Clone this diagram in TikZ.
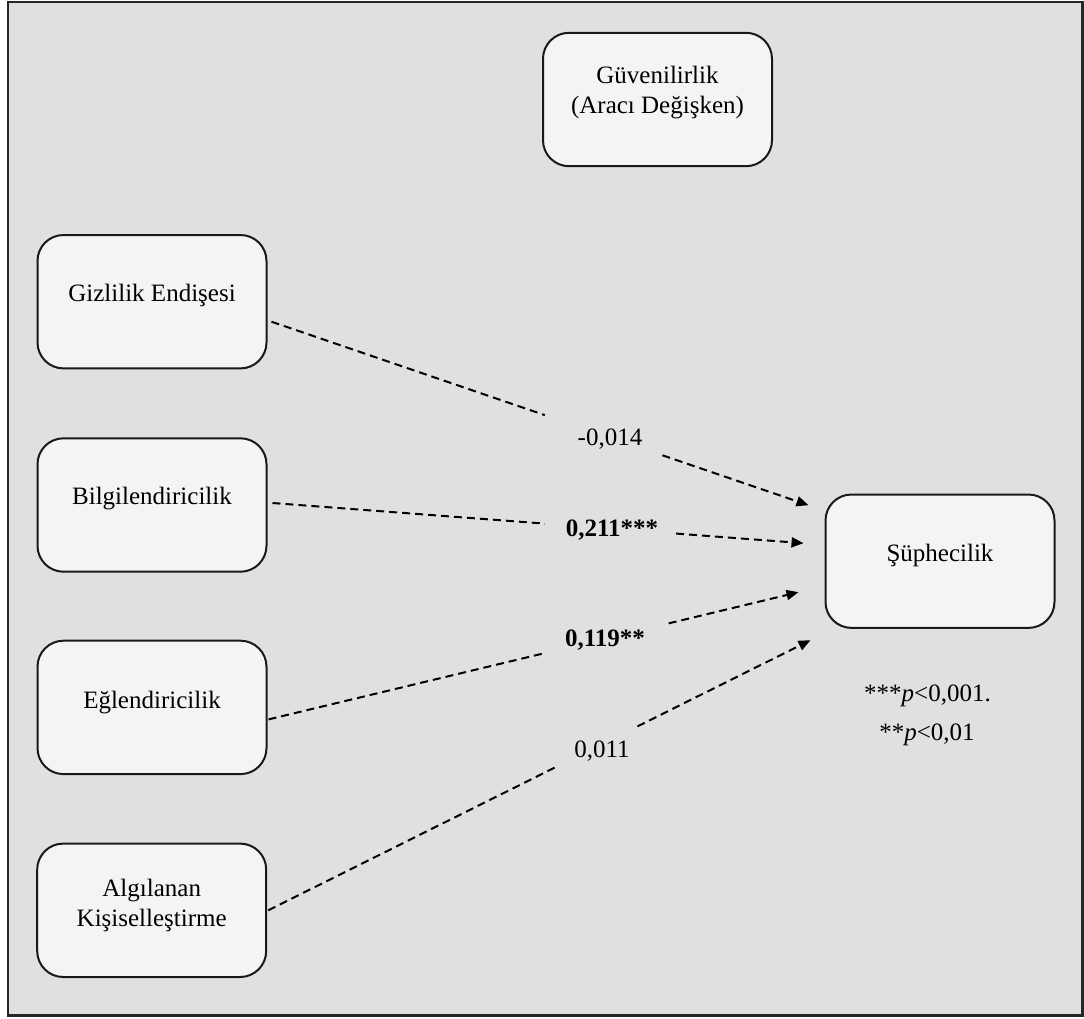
\documentclass[tikz,border=0pt]{standalone}
\usepackage{fontspec}
\setmainfont{Liberation Serif}
\usetikzlibrary{arrows.meta,calc}
\definecolor{bgc}{HTML}{E0E0E0}
\definecolor{boxc}{HTML}{F4F4F4}
\begin{document}
\begin{tikzpicture}[x=0.5pt,y=-0.5pt,
  varbox/.style={draw=black!90,line width=1pt,fill=boxc,rounded corners=13pt,minimum width=114.5pt,minimum height=66.7pt,inner sep=0pt,outer sep=0pt},
  txt/.style={font=\fontsize{12.5}{15}\selectfont,inner sep=0pt,anchor=base},
  dline/.style={dash pattern=on 4pt off 2.5pt,line width=1pt,black},
  arr/.style={dline,-{Triangle[length=6pt,width=5pt]}}
]
\useasboundingbox (0,0) rectangle (1084,1019);
\fill[white] (0,0) rectangle (1084,1019);
\draw[line width=1.25pt,draw=black!85,fill=bgc] (8,2) rectangle (1082.5,1015.5);

% boxes
\node[varbox] (gu) at (657.5,99.5) {};
\node[txt] (gut1) at (657.5,83.5) {Güvenilirlik};
\node[txt] (gut2) at (657.5,113.5) {(Aracı Değişken)};

\node[varbox] (giz) at (152,301.7) {};
\node[txt] (gizt) at (152,301.7) {Gizlilik Endişesi};

\node[varbox] (bil) at (152,505) {};
\node[txt] (bilt) at (152,504.5) {Bilgilendiricilik};

\node[varbox] (egl) at (152,707.4) {};
\node[txt] (eglt) at (152,708.3) {Eğlendiricilik};

\node[varbox] (alg) at (151.7,910.3) {};
\node[txt] (algt1) at (151.7,896) {Algılanan};
\node[txt] (algt2) at (151.7,926) {Kişiselleştirme};

\node[varbox] (sup) at (940,561.2) {};
\node[txt] (supt) at (940,561.7) {Şüphecilik};

% connectors
\coordinate (s1) at ($(giz.east)+(5,20)$);
\coordinate (t1) at ($(sup.west)+(-17,-56)$);
\draw[dline] (s1) -- ($(s1)!0.509!(t1)$);
\draw[arr] ($(s1)!0.728!(t1)$) -- (t1);
\node[txt] (l1) at (610,445.7) {-0,014};

\coordinate (s2) at ($(bil.east)+(6,-2)$);
\coordinate (t2) at ($(sup.west)+(-22,-18)$);
\draw[dline] (s2) -- ($(s2)!0.513!(t2)$);
\draw[arr] ($(s2)!0.760!(t2)$) -- (t2);
\node[txt] (l2) at (612,536.7) {\textbf{0,211***}};

\coordinate (s3) at ($(egl.east)+(2,12)$);
\coordinate (t3) at ($(sup.west)+(-27,31)$);
\draw[dline] (s3) -- ($(s3)!0.519!(t3)$);
\draw[arr] ($(s3)!0.755!(t3)$) -- (t3);
\node[txt] (l3) at (605,646) {\textbf{0,119**}};

\coordinate (s4) at ($(alg.east)+(2,0)$);
\coordinate (t4) at ($(sup.west)+(-15,79)$);
\draw[dline] (s4) -- ($(s4)!0.533!(t4)$);
\draw[arr] ($(s4)!0.681!(t4)$) -- (t4);
\node[txt] (l4) at (602,757.7) {0,011};

% notes
\node[txt] (n1) at (927.5,701.7) {***\textit{p}<0,001.};
\node[txt] (n2) at (927,740) {**\textit{p}<0,01};
\end{tikzpicture}
\end{document}
